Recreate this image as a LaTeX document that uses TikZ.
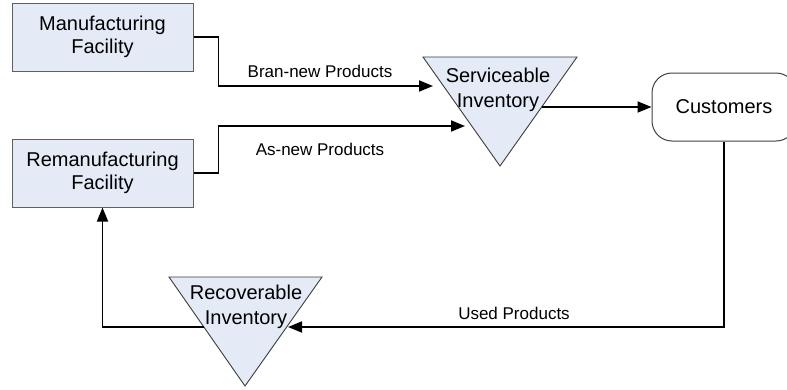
\documentclass[tikz,border=0pt]{standalone}
\usepackage{fontspec}
\setmainfont{Liberation Sans}
\usetikzlibrary{arrows.meta}
\definecolor{boxfill}{RGB}{228,235,247}
\definecolor{boxline}{RGB}{96,96,96}
\definecolor{triline}{RGB}{60,60,60}
\tikzset{
  facbox/.style={draw=boxline, line width=1pt, fill=boxfill, minimum width=181pt, minimum height=68pt, inner sep=0pt, align=center, font=\fontsize{20}{23}\selectfont},
  custbox/.style={draw=black!75, line width=1pt, fill=white, rounded corners=20pt, minimum width=144pt, minimum height=68pt, inner sep=0pt, font=\fontsize{20}{23}\selectfont},
  tri/.style={draw=triline, line width=0.9pt, fill=boxfill},
  tritext/.style={align=center, inner sep=0pt, font=\fontsize{20}{25}\selectfont},
  lbl/.style={inner sep=0pt, font=\fontsize{17}{20}\selectfont},
  conn/.style={line width=1.8pt, -{Triangle[length=14pt,width=11pt]}},
  plain/.style={line width=1.8pt}
}
\begin{document}
\begin{tikzpicture}[x=1pt,y=-1pt]
\useasboundingbox (0,0) rectangle (787,389);
\clip (0,0) rectangle (787,389);
% boxes
\node[facbox] (mf) at (102.5,37) {Manufacturing\\Facility};
\node[facbox] (rf) at (102.5,173) {Remanufacturing\\Facility};
\node[custbox] (cu) at (724,107) {Customers};
% triangles
\coordinate (s1) at (423,57);
\coordinate (s2) at (577,57);
\coordinate (s3) at (500,166);
\draw[tri] (s1) -- (s2) -- (s3) -- cycle;
\node[tritext] (st) at (498,90) {Serviceable\\Inventory};
\coordinate (r1) at (169,277);
\coordinate (r2) at (322,277);
\coordinate (r3) at (245,386);
\draw[tri] (r1) -- (r2) -- (r3) -- cycle;
\node[tritext] (rt) at (246,307) {Recoverable\\Inventory};
% connector ends
\coordinate (sinA) at (433,86);
\coordinate (sinB) at (465,126);
\coordinate (sout) at (542,107);
\coordinate (rin) at (288,327);
\coordinate (rout) at (204,327);
% connectors
\draw[conn] (mf.east) -- ++(25,0) |- (sinA);
\draw[conn] (rf.east) -- ++(25,0) |- (sinB);
\draw[conn] (sout) -- (cu.west);
\draw[conn] (cu.south) |- (rin);
\draw[conn] (rout) -| (rf.south);
% labels
\node[lbl] (l1) at (320,71) {Bran-new Products};
\node[lbl] (l2) at (320,149) {As-new Products};
\node[lbl] (l3) at (514,313) {Used Products};
\end{tikzpicture}
\end{document}
